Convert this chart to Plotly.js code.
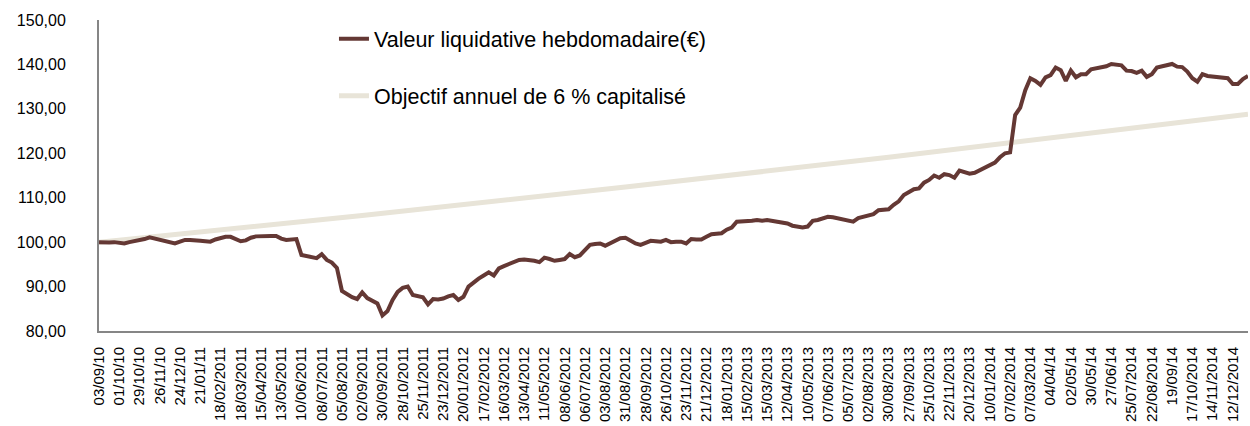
<!DOCTYPE html>
<html>
<head>
<meta charset="utf-8">
<script src="https://cdn.plot.ly/plotly-3.0.1.min.js"></script>
<style>
html,body{margin:0;padding:0;background:#fff;}
#chart{width:1250px;height:426px;}
</style>
</head>
<body>
<div id="chart"></div>
<script>
// Tick labels (one every 4 weekly points)
const tickLabels = [
"03/09/10","01/10/10","29/10/10","26/11/10","24/12/10","21/01/11","18/02/2011","18/03/2011",
"15/04/2011","13/05/2011","10/06/2011","08/07/2011","05/08/2011","02/09/2011","30/09/2011","28/10/2011",
"25/11/2011","23/12/2011","20/01/2012","17/02/2012","16/03/2012","13/04/2012","11/05/2012","08/06/2012",
"06/07/2012","03/08/2012","31/08/2012","28/09/2012","26/10/2012","23/11/2012","21/12/2012","18/01/2013",
"15/02/2013","15/03/2013","12/04/2013","10/05/2013","07/06/2013","05/07/2013","02/08/2013","30/08/2013",
"27/09/2013","25/10/2013","22/11/2013","20/12/2013","10/01/2014","07/02/2014","07/03/2014","04/04/14",
"02/05/14","30/05/14","27/06/14","25/07/2014","22/08/2014","19/09/14","17/10/2014","14/11/2014","12/12/2014"
];

// Weekly net asset value
const valeurLiquidative = [
100.0,99.9,99.9,100.0,99.8,99.7,100.0,100.2,100.3,100.7,
101.1,100.8,100.4,100.1,99.9,99.7,100.1,100.5,100.5,100.5,
100.3,100.2,100.1,100.6,101.0,101.2,101.2,100.8,100.2,100.4,
101.0,101.3,101.4,101.5,101.4,101.4,100.8,100.5,100.6,100.7,
97.1,96.9,96.6,96.4,97.3,96.0,95.4,94.2,89.0,88.2,
87.6,87.2,88.7,87.4,86.8,86.2,83.5,84.5,87.0,88.8,
89.7,90.0,88.1,87.8,87.6,86.0,87.2,87.1,87.3,87.8,
88.1,87.0,87.7,90.0,91.0,91.8,92.5,93.2,92.5,94.1,
94.6,95.0,95.5,96.0,96.1,96.0,95.8,95.5,96.5,96.2,
95.8,96.0,96.2,97.3,96.6,97.0,98.2,99.4,99.6,99.7,
99.2,99.8,100.3,100.9,101.0,100.3,99.7,99.4,99.8,100.3,
100.2,100.1,100.5,100.0,100.1,100.1,99.7,100.7,100.6,100.6,
101.2,101.8,101.9,102.0,102.8,103.3,104.6,104.6,104.7,104.8,
105.0,104.8,105.0,104.8,104.6,104.4,104.2,103.7,103.5,103.3,
103.5,104.8,105.0,105.3,105.7,105.6,105.4,105.0,104.8,104.6,
105.4,105.7,105.9,106.3,107.2,107.3,107.4,108.4,109.2,110.6,
111.2,111.9,112.1,113.4,114.0,115.0,114.5,115.3,115.1,114.5,
116.1,115.7,115.4,115.6,116.2,116.8,117.4,117.9,119.1,120.0,
120.2,128.6,130.3,134.2,136.9,136.3,135.4,137.1,137.6,139.3,
138.7,136.3,138.6,137.1,137.8,137.8,138.9,139.1,139.4,139.6,
140.1,139.9,139.8,138.6,138.5,138.1,138.6,137.2,137.8,139.3,
139.5,139.7,140.1,139.5,139.4,138.4,136.9,136.1,137.8,137.4,
137.3,137.1,137.0,136.9,135.6,135.6,136.7,137.4
];

// Objective line: 6 % per year, capitalised
const objectifIndex = [0, 52, 104, 156, 208, 227];
const objectifValeur = [100.0, 106.0, 112.4, 119.1, 126.2, 128.8];

const seriesNames = ["Valeur liquidative hebdomadaire(€)", "Objectif annuel de 6 % capitalisé"];

const xIdx = valeurLiquidative.map((_, i) => i);
const tickVals = tickLabels.map((_, i) => i * 4);

const FONT = '"Liberation Sans", Arial, sans-serif';

const traces = [
  {
    x: objectifIndex, y: objectifValeur, type: 'scatter', mode: 'lines',
    name: seriesNames[1], legend: 'legend2',
    line: {color: '#E8E4D8', width: 5}, hoverinfo: 'skip'
  },
  {
    x: xIdx, y: valeurLiquidative, type: 'scatter', mode: 'lines',
    name: seriesNames[0], legend: 'legend',
    line: {color: '#643834', width: 4}
  }
];

const layout = {
  width: 1250, height: 426,
  margin: {l: 99, r: 2, t: 20, b: 95, pad: 0},
  paper_bgcolor: '#fff', plot_bgcolor: '#fff',
  separators: ', ',
  font: {family: FONT, color: '#000', size: 15},
  showlegend: true,
  xaxis: {
    type: 'linear', range: [0, 227],
    tickmode: 'array', tickvals: tickVals, ticktext: tickLabels,
    tickangle: -90, tickfont: {size: 15, family: FONT, color: '#000'},
    showgrid: false, zeroline: false,
    showline: true, linecolor: '#868686', linewidth: 2,
    ticks: '', ticklabelstandoff: 8
  },
  yaxis: {
    range: [80, 150], dtick: 10, tick0: 80, tickformat: '.2f',
    tickfont: {size: 16, family: FONT, color: '#000'},
    showgrid: false, zeroline: false,
    showline: true, linecolor: '#868686', linewidth: 2,
    ticks: '', ticklabelstandoff: 28
  },
  legend: {
    x: 0.2045, y: 0.94, xanchor: 'left', yanchor: 'middle',
    bgcolor: 'rgba(0,0,0,0)', borderwidth: 0,
    font: {size: 21.5, family: FONT, color: '#000'}
  },
  legend2: {
    x: 0.2045, y: 0.756, xanchor: 'left', yanchor: 'middle',
    bgcolor: 'rgba(0,0,0,0)', borderwidth: 0,
    font: {size: 21.5, family: FONT, color: '#000'}
  }
};

Plotly.newPlot('chart', traces, layout, {displayModeBar: false, staticPlot: true});
</script>
</body>
</html>
